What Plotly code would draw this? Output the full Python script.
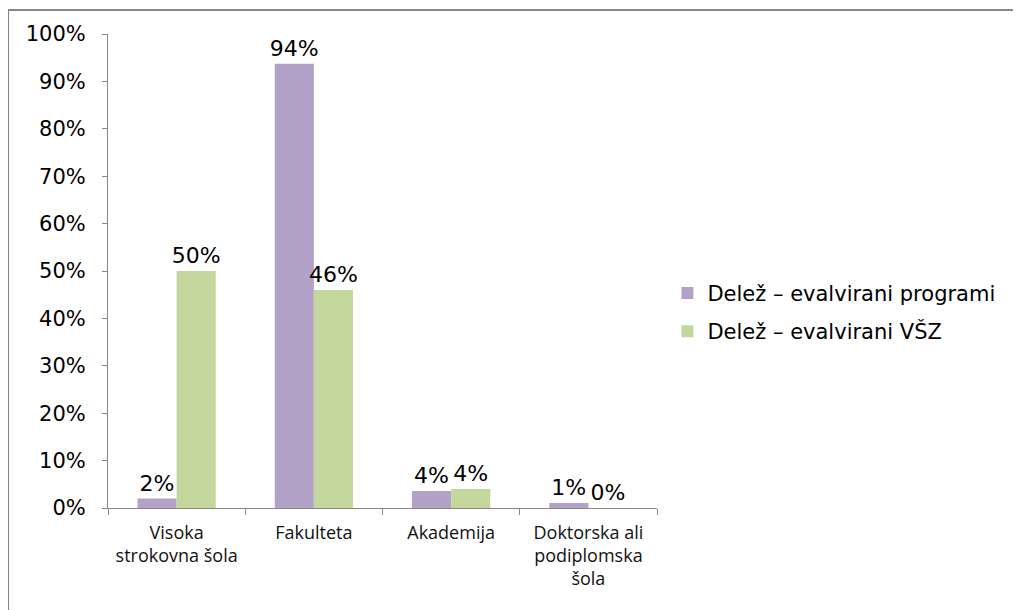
import plotly.graph_objects as go

categories = ["Visoka<br>strokovna šola", "Fakulteta", "Akademija",
              "Doktorska ali<br>podiplomska<br>šola"]
delez_programi = [0.02, 0.937, 0.036, 0.0105]
delez_vsz = [0.50, 0.46, 0.04, 0.0]
series_names = ["Delež – evalvirani programi", "Delež – evalvirani VŠZ"]
colors = ["#B3A2C7", "#C3D69B"]

fig = go.Figure()
for name, vals, col in zip(series_names, [delez_programi, delez_vsz], colors):
    fig.add_trace(go.Bar(
        x=categories,
        y=vals,
        name=name,
        legendgroup=name,
        marker=dict(color=col, line=dict(width=0)),
        texttemplate="%{y:.0%}",
        textposition="outside",
        constraintext="none",
        textfont=dict(family="DejaVu Sans", size=22, color="#000000"),
        cliponaxis=False,
    ))

fig.update_layout(
    width=1021,
    height=610,
    barmode="group",
    bargap=0.43,
    bargroupgap=0,
    plot_bgcolor="white",
    paper_bgcolor="white",
    margin=dict(l=100, r=372, t=26, b=110),
    font=dict(family="DejaVu Sans", size=21, color="#000000"),
    showlegend=True,
    legend=dict(
        x=1.019, y=0.413, xanchor="left", yanchor="middle",
        font=dict(family="DejaVu Sans", size=21),
        traceorder="grouped", tracegroupgap=8,
    ),
    shapes=[dict(
        type="rect", xref="paper", yref="paper",
        x0=-0.182, x1=1.75, y0=-0.35, y1=1.0506,
        line=dict(color="#868686", width=2),
        fillcolor="rgba(0,0,0,0)", layer="below",
    )],
)
fig.update_yaxes(
    range=[0, 1],
    tickformat=".0%",
    dtick=0.1,
    showgrid=False,
    zeroline=False,
    showline=True,
    linecolor="#868686",
    linewidth=1,
    ticks="outside",
    ticklen=5,
    tickcolor="#868686",
    ticklabelstandoff=12,
    tickfont=dict(family="DejaVu Sans", size=21),
)
fig.update_xaxes(
    showline=True,
    linecolor="#868686",
    linewidth=1,
    ticks="outside",
    tickson="boundaries",
    ticklen=6,
    tickcolor="#868686",
    ticklabelstandoff=8,
    tickfont=dict(family="Open Sans", size=18, color="#111111"),
)

fig.write_html("out.html")
